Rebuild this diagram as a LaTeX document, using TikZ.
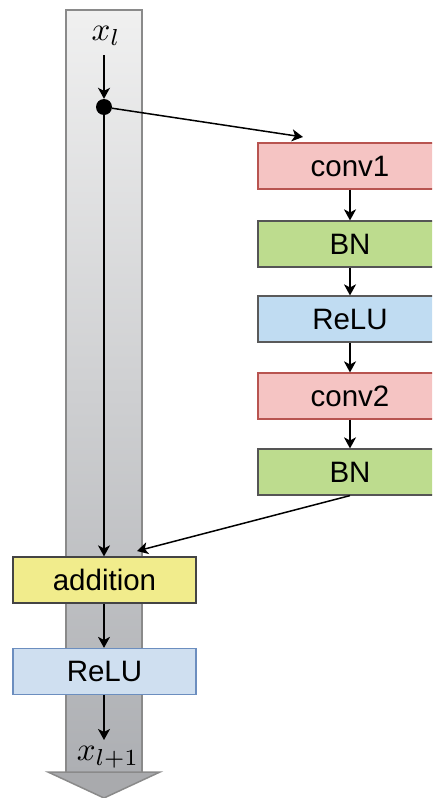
\documentclass[tikz,border=0pt]{standalone}
\usepackage{graphicx}
\usepackage{fontspec}
\setmainfont{Liberation Sans}
\usetikzlibrary{arrows.meta}
\definecolor{convfill}{HTML}{F5C4C3}
\definecolor{convdraw}{HTML}{B85450}
\definecolor{bnfill}{HTML}{BDDC8E}
\definecolor{bndraw}{HTML}{555555}
\definecolor{relufill}{HTML}{C0DCF2}
\definecolor{reludraw}{HTML}{5A5A5A}
\definecolor{relubfill}{HTML}{CFDFF0}
\definecolor{relubdraw}{HTML}{6C8EBF}
\definecolor{addfill}{HTML}{F1EC8C}
\definecolor{adddraw}{HTML}{444444}
\definecolor{coltop}{HTML}{F0F0F0}
\definecolor{colbot}{HTML}{ADAFB3}
\definecolor{coldraw}{HTML}{8A8A8A}
\definecolor{headfill}{HTML}{A9AAAD}
\begin{document}
\begin{tikzpicture}[x=1pt,y=-1pt,
  box/.style={draw, line width=1.2pt, minimum width=184pt, minimum height=46pt, inner sep=0pt, font=\fontsize{29.5}{31}\selectfont},
  arr/.style={line width=1.5pt, -{Stealth[length=11pt,width=12pt,inset=3pt]}},
  mathlbl/.style={inner sep=2pt}]
\useasboundingbox (0,0) rectangle (432,798);
\clip (0,0) rectangle (432,798);
% column
\shade[top color=coltop, bottom color=colbot] (66,10) rectangle (142,772);
\draw[coldraw, line width=1.5pt] (66,772) -- (66,10) -- (142,10) -- (142,772);
\filldraw[fill=headfill, draw=coldraw, line width=1.5pt] (48,772) -- (160,772) -- (104,798) -- cycle;
% nodes
\node[mathlbl] (xl) at (106,36) {\scalebox{3.3}{$x_l$}};
\node[circle, fill=black, minimum size=16pt, inner sep=0pt] (dot) at (104,107) {};
\node[box, fill=convfill, draw=convdraw] (conv1) at (350,166) {conv1};
\node[box, fill=bnfill, draw=bndraw] (bn1) at (350,244) {BN};
\node[box, fill=relufill, draw=reludraw] (relu1) at (350,319) {ReLU};
\node[box, fill=convfill, draw=convdraw] (conv2) at (350,396) {conv2};
\node[box, fill=bnfill, draw=bndraw] (bn2) at (350,472) {BN};
\node[box, fill=addfill, draw=adddraw, minimum width=183pt] (add) at (104.5,580) {addition};
\node[box, fill=relubfill, draw=relubdraw, minimum width=183pt] (relu2) at (104.5,671.5) {ReLU};
\node[mathlbl] (xl1) at (108,757) {\scalebox{3.3}{$x_{l+1}$}};
\coordinate (br) at (303,137);
\coordinate (jn) at (137,551);
\coordinate (out) at (104,740);
\coordinate (instart) at (104,55);
% connectors
\draw[arr] (instart) -- (dot.north);
\draw[arr] (dot) -- (br);
\draw[arr] (dot) -- (dot |- add.north);
\draw[arr] (conv1) -- (bn1);
\draw[arr] (bn1) -- (relu1);
\draw[arr] (relu1) -- (conv2);
\draw[arr] (conv2) -- (bn2);
\draw[arr] (bn2.south) -- (jn);
\draw[arr] (dot |- add.south) -- (dot |- relu2.north);
\draw[arr] (dot |- relu2.south) -- (out);
\end{tikzpicture}
\end{document}
